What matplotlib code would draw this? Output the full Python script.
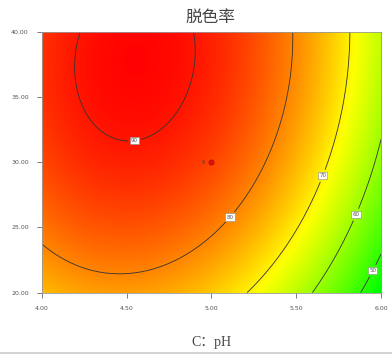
import numpy as np
import matplotlib
matplotlib.use("Agg")
import matplotlib.pyplot as plt
from matplotlib.colors import LinearSegmentedColormap

# fitted quadratic model: 脱色率 = f(pH, B)
coef_names = ["b0", "C", "B", "C2", "B2", "CB"]
coef_vals = [-227.228407, 118.378012, 2.621745, -13.633576, -0.043481, 0.148779]

ph_range = [4.00, 6.00]
b_range = [20.00, 40.00]
x_ticks = [4.00, 4.50, 5.00, 5.50, 6.00]
y_ticks = [20.00, 25.00, 30.00, 35.00, 40.00]
levels = [50, 60, 70, 80, 90]

design_x = [5.00]
design_y = [30.00]
design_n = ["6"]

b0, bc, bb, bcc, bbb, bcb = coef_vals
gx, gy = np.meshgrid(np.linspace(*ph_range, 300), np.linspace(*b_range, 300))
gz = b0 + bc * gx + bb * gy + bcc * gx ** 2 + bbb * gy ** 2 + bcb * gx * gy

cmap = LinearSegmentedColormap.from_list("de", ["#00ff00", "#ffff00", "#ff0000"])

fig = plt.figure(figsize=(3.92, 3.56), dpi=100)
ax = fig.add_axes([0.107, 0.178, 0.865, 0.732])

ax.imshow(gz, origin="lower", extent=ph_range + b_range, aspect="auto",
          cmap=cmap, vmin=46, vmax=92, interpolation="bilinear")
cs = ax.contour(gx, gy, gz, levels=levels, colors="#333333", linewidths=0.6)
lab_pos = [(4.55, 31.2), (5.11, 25.8), (5.65, 29.0), (5.85, 26.0), (5.95, 21.7)]
lbls = ax.clabel(cs, fmt="%d", fontsize=4, manual=lab_pos, inline=True, inline_spacing=3)
for t in lbls:
    t.set_rotation(0)
    t.set_color("#555555")
    t.set_bbox(dict(boxstyle="square,pad=0.2", fc="white", ec="#888888", lw=0.4))

ax.scatter(design_x, design_y, s=14, color="#dd1111", edgecolors="#aa0000",
           linewidths=0.4, zorder=5)
for dx, dy, n in zip(design_x, design_y, design_n):
    ax.text(dx - 0.035, dy, n, fontsize=4, color="#663333", ha="right", va="center")

ax.set_xlim(ph_range)
ax.set_ylim(b_range)
ax.set_xticks(x_ticks)
ax.set_yticks(y_ticks)
ax.set_xticklabels([f"{v:.2f}" for v in x_ticks])
ax.set_yticklabels([f"{v:.2f}" for v in y_ticks])
ax.tick_params(direction="out", length=3.5, width=0.6, color="#666666",
               labelsize=4.5, labelcolor="#555555", pad=6)
for s in ax.spines.values():
    s.set_color("#999999")
    s.set_linewidth(0.6)

fig.text(0.536, 0.950, "脱色率", fontsize=12, color="#444444", ha="center", va="center",
         family=["Noto Sans CJK SC", "DejaVu Sans"])
fig.text(0.54, 0.037, "C：pH", fontsize=10, color="#444444", ha="center", va="center",
         family=["Liberation Serif", "Noto Sans CJK SC"])
fig.add_artist(plt.Line2D([0, 1], [0.008, 0.008], color="#cccccc", lw=1.2))

fig.savefig("out.png", dpi=100)
